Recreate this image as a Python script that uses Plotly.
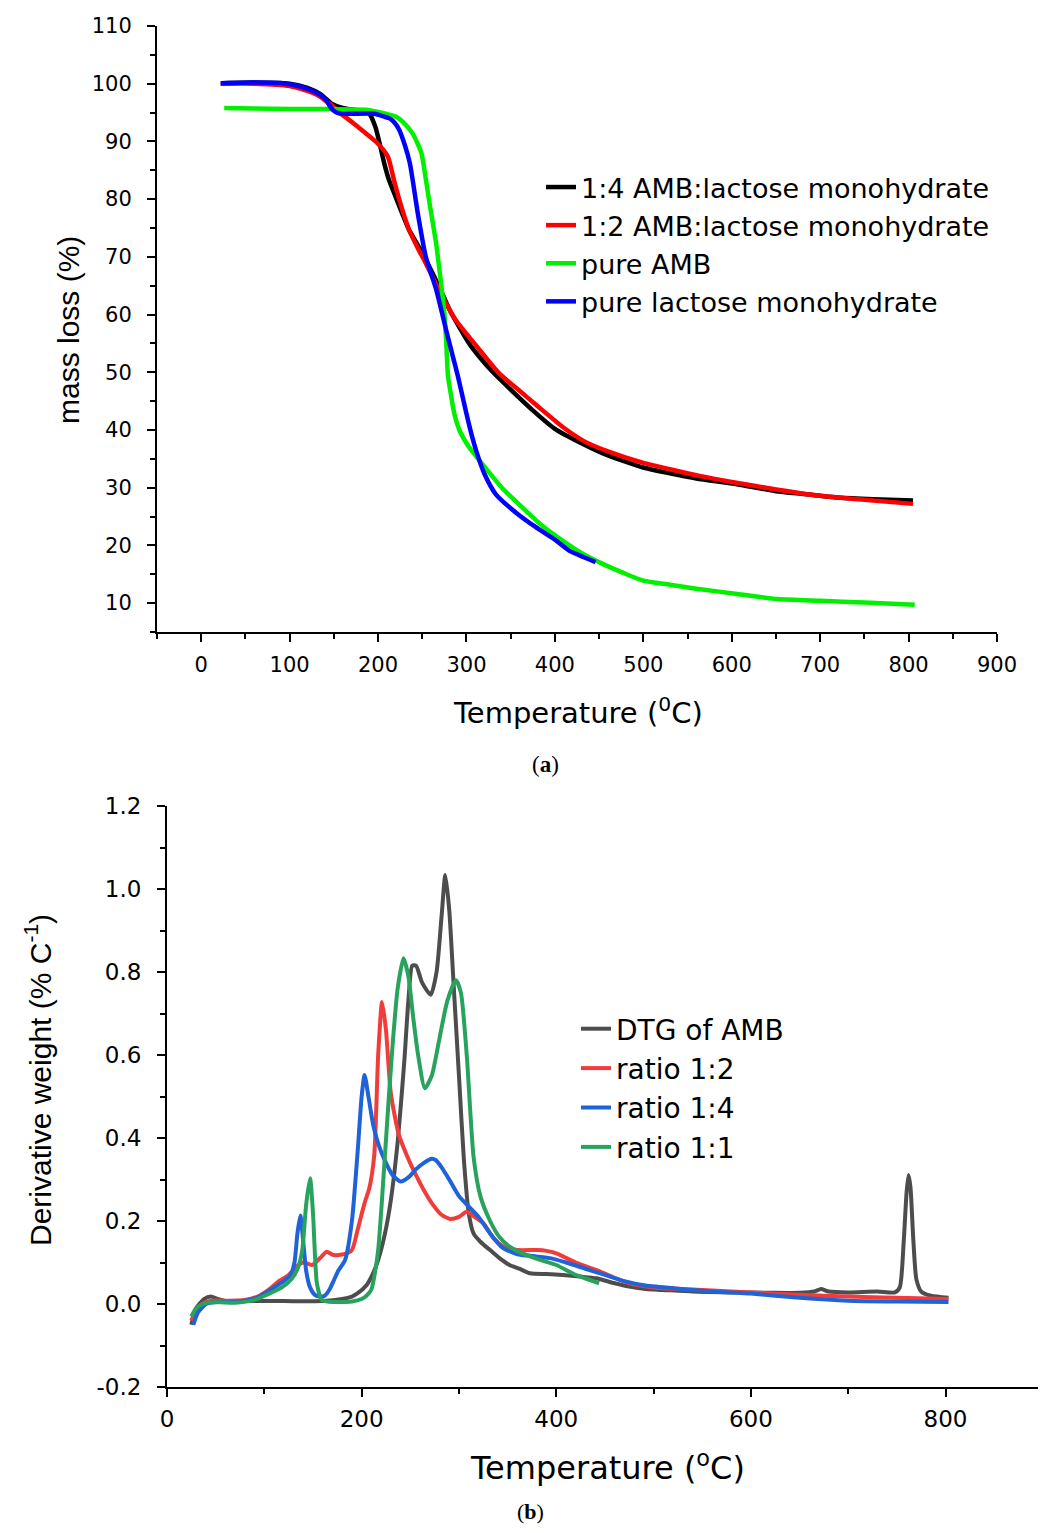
import plotly.graph_objects as go

# (a) TGA curves: temperature (C) vs mass loss (%)
t_14 = [25, 60, 100, 120, 135, 148, 160, 175, 190, 197, 202, 207, 212, 217, 226, 235, 247, 258, 270, 281,
        292, 303, 315, 330, 350, 375, 400, 430, 455, 500, 530, 560, 606, 650, 682, 720, 760, 805]
m_14 = [100.1, 100.2, 100.0, 99.3, 98.2, 96.5, 95.8, 95.4, 94.8, 92.5, 89.5, 86.2, 83.5, 81.5, 78.0, 74.7, 71.5,
        68.3, 64.5, 60.8, 57.8, 55.0, 52.6, 50.0, 47.0, 43.4, 40.2, 37.7, 35.9, 33.5, 32.5, 31.6, 30.6, 29.4,
        28.9, 28.3, 28.0, 27.8]

t_12 = [22, 60, 100, 115, 125, 134, 142, 149, 156, 165, 175, 183, 198, 211, 218, 224, 235, 245, 254, 269, 288,
        311, 337, 360, 380, 410, 435, 460, 500, 530, 565, 600, 650, 700, 750, 805]
m_12 = [100.0, 100.0, 99.6, 99.0, 98.5, 97.8, 96.9, 96.1, 95.0, 94.0, 92.8, 91.8, 89.9, 87.4, 83.3, 79.9, 74.7,
        71.5, 68.9, 64.2, 59.0, 54.6, 49.8, 46.8, 44.2, 40.4, 37.9, 36.3, 34.3, 33.2, 32.0, 31.0, 29.7, 28.6,
        27.9, 27.2]

t_amb = [26, 60, 100, 150, 186, 200, 220, 228, 239, 249, 254, 258, 262, 266, 269, 272, 275, 277, 279, 282,
         286, 292, 303, 318, 340, 363, 385, 409, 430, 454, 478, 500, 530, 560, 606, 652, 700, 750, 807]
m_amb = [95.8, 95.7, 95.6, 95.6, 95.5, 95.1, 94.3, 93.4, 91.4, 88.0, 83.5, 79.5, 75.8, 72.0, 68.3, 64.5, 60.2,
         55.5, 49.5, 46.5, 43.0, 40.0, 37.0, 34.1, 30.0, 26.6, 23.5, 20.8, 18.7, 16.8, 15.2, 13.9, 13.2, 12.5,
         11.6, 10.7, 10.4, 10.1, 9.7]

t_lac = [22, 60, 92, 110, 122, 133, 141, 146, 150, 155, 167, 196, 207, 213, 219, 224, 230, 236, 245, 254, 266,
         277, 285, 290, 296, 302, 307, 312, 320, 333, 355, 378, 400, 416, 432, 446]
m_lac = [100.1, 100.2, 100.1, 99.6, 99.0, 98.2, 97.2, 96.0, 95.3, 94.9, 94.8, 94.8, 94.3, 94.0, 93.2, 92.0,
         89.5, 86.2, 77.5, 70.0, 64.2, 57.3, 52.5, 49.5, 45.5, 41.5, 38.5, 35.9, 32.5, 28.9, 25.8, 23.2, 21.0,
         19.1, 18.0, 17.1]

# (b) DTG curves: temperature (C) vs derivative weight (% C-1)
t_dtg = [25, 30, 38, 45, 52, 60, 80, 120, 160, 180, 190, 196, 205, 211, 217, 224, 230, 237, 241, 244, 248, 252,
         256, 262, 271, 277, 282, 286, 290, 295, 300, 305, 310, 315, 322, 332, 342, 352, 362, 373, 390, 407, 425,
         441, 460, 475, 492, 509, 540, 580, 620, 650, 665, 672, 680, 700, 730, 748, 753, 757, 760, 762, 764, 767,
         770, 775, 785, 803]
d_dtg = [-0.05, -0.01, 0.012, 0.018, 0.012, 0.007, 0.007, 0.007, 0.007, 0.012, 0.018, 0.026, 0.045, 0.07, 0.106,
         0.17, 0.25, 0.39, 0.5, 0.59, 0.73, 0.815, 0.815, 0.775, 0.745, 0.8, 0.93, 1.034, 0.95, 0.75, 0.55, 0.35,
         0.22, 0.17, 0.15, 0.13, 0.11, 0.094, 0.085, 0.074, 0.072, 0.07, 0.066, 0.062, 0.05, 0.042, 0.036, 0.034,
         0.03, 0.028, 0.027, 0.027, 0.03, 0.036, 0.03, 0.028, 0.03, 0.028, 0.04, 0.15, 0.27, 0.311, 0.28, 0.15,
         0.06, 0.03, 0.02, 0.015]

t_r12 = [25, 30, 36, 45, 60, 80, 95, 105, 115, 125, 133, 140, 149, 157, 164, 171, 182, 190, 196, 203, 208, 213,
         217, 221, 225, 230, 238, 247, 256, 265, 273, 282, 291, 300, 308, 316, 325, 335, 346, 360, 380, 390, 400,
         420, 441, 458, 475, 500, 540, 600, 650, 700, 750, 803]
d_r12 = [-0.04, -0.015, 0.0, 0.008, 0.008, 0.01, 0.02, 0.035, 0.055, 0.07, 0.09, 0.1, 0.094, 0.11, 0.126, 0.118,
         0.12, 0.13, 0.18, 0.243, 0.28, 0.36, 0.6, 0.728, 0.66, 0.508, 0.41, 0.355, 0.31, 0.27, 0.24, 0.215,
         0.205, 0.21, 0.222, 0.21, 0.195, 0.16, 0.138, 0.13, 0.13, 0.128, 0.122, 0.1, 0.082, 0.065, 0.05, 0.04,
         0.035, 0.028, 0.022, 0.018, 0.015, 0.012]

t_r14 = [27, 32, 40, 50, 65, 80, 92, 100, 110, 120, 127, 131, 134, 137, 140, 143, 147, 152, 157, 162, 167, 172,
         176, 183, 190, 196, 200, 203, 207, 212, 218, 225, 232, 240, 248, 256, 264, 272, 276, 282, 290, 300, 310,
         320, 332, 345, 360, 378, 395, 410, 430, 450, 470, 490, 520, 560, 600, 650, 700, 750, 803]
d_r14 = [-0.05, -0.02, 0.0, 0.005, 0.005, 0.008, 0.015, 0.025, 0.04, 0.055, 0.07, 0.1, 0.17, 0.213, 0.15, 0.08,
         0.04, 0.022, 0.018, 0.02, 0.035, 0.06, 0.08, 0.106, 0.2, 0.37, 0.5, 0.552, 0.5, 0.43, 0.38, 0.34, 0.31,
         0.295, 0.305, 0.325, 0.34, 0.35, 0.347, 0.33, 0.3, 0.26, 0.235, 0.21, 0.17, 0.135, 0.12, 0.115, 0.11,
         0.1, 0.085, 0.07, 0.055, 0.045, 0.038, 0.03, 0.025, 0.015, 0.008, 0.006, 0.005]

t_r11 = [25, 30, 37, 45, 55, 70, 90, 105, 118, 128, 135, 139, 143, 147, 150, 154, 159, 165, 175, 190, 200, 205,
         210, 214, 217, 220, 224, 228, 232, 237, 243, 248, 253, 258, 265, 272, 280, 288, 297, 302, 308, 315, 322,
         332, 342, 352, 362, 373, 385, 400, 420, 444]
d_r11 = [-0.03, -0.01, 0.0, 0.004, 0.004, 0.003, 0.01, 0.025, 0.04, 0.06, 0.09, 0.13, 0.24, 0.303, 0.22, 0.05,
         0.01, 0.006, 0.005, 0.006, 0.012, 0.02, 0.035, 0.08, 0.13, 0.22, 0.36, 0.5, 0.63, 0.76, 0.833, 0.79, 0.69,
         0.6, 0.52, 0.55, 0.64, 0.73, 0.78, 0.75, 0.6, 0.355, 0.26, 0.2, 0.16, 0.138, 0.125, 0.115, 0.105, 0.094,
         0.07, 0.05]

# tick labels of the DTG y axis (hyphen minus as in the original)
dtg_ticks = [-0.2, 0.0, 0.2, 0.4, 0.6, 0.8, 1.0, 1.2]
dtg_ticktext = ["-0.2", "0.0", "0.2", "0.4", "0.6", "0.8", "1.0", "1.2"]

# page is 1046x1533, the html body adds 8px all round
PAD = 8
W, H = 1046 - 2 * PAD, 1533 - 2 * PAD
SANS = "Liberation Sans, Arial, sans-serif"
WIDE = "DejaVu Sans, Verdana, sans-serif"
SERIF = "Liberation Serif, Times New Roman, serif"


def px(x):
    return (x - PAD) / W


def py(y):
    return 1 - (y - PAD) / H


fig = go.Figure()

top = [
    (t_14, m_14, "1:4 AMB:lactose monohydrate", "#000000"),
    (t_12, m_12, "1:2 AMB:lactose monohydrate", "#ff0000"),
    (t_amb, m_amb, "pure AMB", "#00f000"),
    (t_lac, m_lac, "pure lactose monohydrate", "#0000ff"),
]
for x, y, name, col in top:
    fig.add_trace(go.Scatter(x=x, y=y, name=name, mode="lines",
                             line=dict(color=col, width=4.5, shape="spline", smoothing=0.6),
                             xaxis="x", yaxis="y", legend="legend"))

bottom = [
    (t_dtg, d_dtg, "DTG of AMB", "#4d4d4d"),
    (t_r12, d_r12, "ratio 1:2", "#f23b3b"),
    (t_r14, d_r14, "ratio 1:4", "#1f63d8"),
    (t_r11, d_r11, "ratio 1:1", "#28a35e"),
]
for x, y, name, col in bottom:
    fig.add_trace(go.Scatter(x=x, y=y, name=name, mode="lines",
                             line=dict(color=col, width=4, shape="spline", smoothing=0.6),
                             xaxis="x2", yaxis="y2", legend="legend2"))


def ax(dom, rng, dtick, mdtick, anchor, size, standoff):
    return dict(domain=dom, range=rng, dtick=dtick, tick0=0, anchor=anchor, automargin=False,
                showline=True, linecolor="black", linewidth=2, ticks="outside", ticklen=8, tickwidth=2,
                tickcolor="black", showgrid=False, zeroline=False, ticklabelstandoff=standoff,
                minor=dict(ticks="outside", ticklen=5, tickwidth=2, tickcolor="black", dtick=mdtick, tick0=0),
                tickfont=dict(family=WIDE, size=size, color="black"))


y2 = ax([py(1387), py(806)], [-0.2, 1.2], 0.2, 0.1, "x2", 23, 11)
y2.update(tickmode="array", tickvals=dtg_ticks, ticktext=dtg_ticktext)

fig.update_layout(
    template="none",
    width=W, height=H, margin=dict(l=0, r=0, t=0, b=0, autoexpand=False),
    paper_bgcolor="white", plot_bgcolor="white",
    xaxis=ax([px(157), px(997)], [-50, 900], 100, 50, "y", 21, 5),
    yaxis=ax([py(632), py(26)], [5, 110], 10, 5, "x", 21, 11),
    xaxis2=ax([px(167), 1.0], [0, 895], 200, 100, "y2", 23, 2),
    yaxis2=y2,
    legend=dict(x=px(541), y=py(163), xanchor="left", yanchor="top", bgcolor="rgba(0,0,0,0)",
                font=dict(family=WIDE, size=27, color="black"), tracegroupgap=0),
    legend2=dict(x=px(576), y=py(1004), xanchor="left", yanchor="top", bgcolor="rgba(0,0,0,0)",
                 font=dict(family=WIDE, size=28, color="black"), tracegroupgap=0),
)

notes = [
    (68, 330, "mass loss (%)", -90, 30, SANS),
    (578, 711, "Temperature (<sup>0</sup>C)", 0, 29, WIDE),
    (38, 1080, "Derivative weight (% C<sup>-1</sup>)", -90, 30, SANS),
    (607, 1466, "Temperature (<sup>o</sup>C)", 0, 32, WIDE),
    (545, 765, "(<b>a</b>)", 0, 23, SERIF),
    (530, 1511, "(<b>b</b>)", 0, 22, SERIF),
]
for x, y, txt, ang, size, fam in notes:
    fig.add_annotation(x=px(x), y=py(y), xref="paper", yref="paper", text=txt, textangle=ang, showarrow=False,
                       xanchor="center", yanchor="middle", font=dict(family=fam, size=size, color="black"))

fig.write_html("out.html")
